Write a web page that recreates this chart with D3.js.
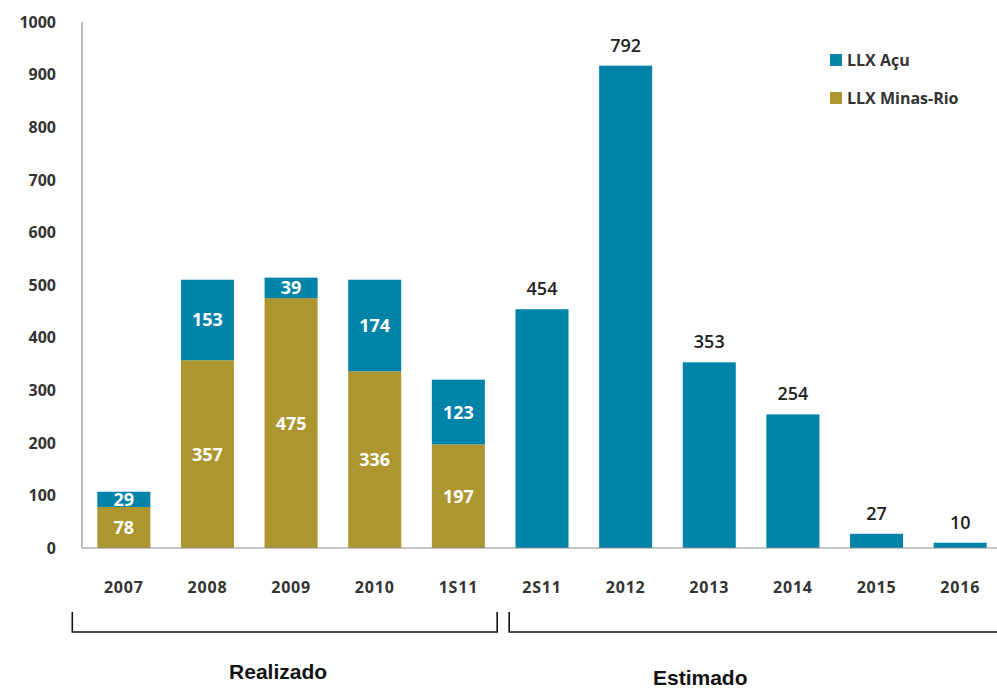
<!DOCTYPE html>
<html>
<head>
<meta charset="utf-8">
<script src="https://cdn.jsdelivr.net/npm/d3@7"></script>
<style>
  body { margin: 0; background: #fff; }
  svg { display: block; }
  .tick-label { font-family: "Open Sans", sans-serif; font-weight: 700; fill: #333; }
</style>
</head>
<body>
<svg class="mysvg"></svg>
<script>
// categories and values
const categories = ["2007", "2008", "2009", "2010", "1S11", "2S11", "2012", "2013", "2014", "2015", "2016"];
const minasRio = [78, 357, 475, 336, 197, 0, 0, 0, 0, 0, 0];
// bar heights as drawn (2012 bar is drawn taller than its label says)
const acu = [29, 153, 39, 174, 123, 454, 917, 353, 254, 27, 10];
const acuLabels = ["29", "153", "39", "174", "123", "454", "792", "353", "254", "27", "10"];
const minasLabels = ["78", "357", "475", "336", "197", "", "", "", "", "", ""];
const yTicks = [0, 100, 200, 300, 400, 500, 600, 700, 800, 900, 1000];
const realizadoCats = ["2007", "2008", "2009", "2010", "1S11"];
const estimadoCats = ["2S11", "2012", "2013", "2014", "2015", "2016"];

const width = 997, height = 688;
const colorAcu = "#0083a9", colorMinas = "#ad952f";

const svg = d3.select(".mysvg").attr("width", width).attr("height", height);

const xScale = d3.scaleBand()
  .domain(categories)
  .range([82, 1002])
  .paddingInner(0.366)
  .paddingOuter(0.183);

const yScale = d3.scaleLinear().domain([0, 1000]).range([548, 22]);

const rows = categories.map((c, i) => ({
  cat: c, minas: minasRio[i], acu: acu[i],
  acuLabel: acuLabels[i], minasLabel: minasLabels[i],
  stacked: realizadoCats.includes(c)
}));

const cx = (c) => xScale(c) + xScale.bandwidth() / 2;

// Minas-Rio bars (bottom)
svg.selectAll(".bar-minas")
  .data(rows.filter(d => d.minas > 0))
  .enter().append("rect")
  .attr("class", "bar-minas")
  .attr("x", d => xScale(d.cat))
  .attr("width", xScale.bandwidth())
  .attr("y", d => yScale(d.minas))
  .attr("height", d => yScale(0) - yScale(d.minas))
  .attr("fill", colorMinas);

// Açu bars stacked on top
svg.selectAll(".bar-acu")
  .data(rows)
  .enter().append("rect")
  .attr("class", "bar-acu")
  .attr("x", d => xScale(d.cat))
  .attr("width", xScale.bandwidth())
  .attr("y", d => yScale(d.minas + d.acu))
  .attr("height", d => yScale(d.minas) - yScale(d.minas + d.acu))
  .attr("fill", colorAcu);

// Axes lines
svg.append("line")
  .attr("x1", 82).attr("x2", 82)
  .attr("y1", yScale(1000)).attr("y2", yScale(0))
  .attr("stroke", "#8c8c8c").attr("stroke-width", 1.2);
svg.append("line")
  .attr("x1", 82).attr("x2", width)
  .attr("y1", yScale(0)).attr("y2", yScale(0))
  .attr("stroke", "#8c8c8c").attr("stroke-width", 1.2);

// Y tick labels
svg.selectAll(".y-label")
  .data(yTicks)
  .enter().append("text")
  .attr("class", "tick-label")
  .attr("x", 56)
  .attr("y", d => yScale(d))
  .attr("dy", "0.36em")
  .attr("text-anchor", "end")
  .style("font-size", "16px")
  .text(d => d);

// X tick labels
svg.selectAll(".x-label")
  .data(categories)
  .enter().append("text")
  .attr("class", "tick-label")
  .attr("x", d => cx(d))
  .attr("y", 593)
  .attr("text-anchor", "middle")
  .style("font-size", "16px")
  .style("letter-spacing", "0.8px")
  .text(d => d);

// Labels inside stacked bars
const inside = rows.filter(d => d.stacked);
svg.selectAll(".lbl-acu-in")
  .data(inside)
  .enter().append("text")
  .attr("x", d => cx(d.cat))
  .attr("y", d => (yScale(d.minas) + yScale(d.minas + d.acu)) / 2)
  .attr("dy", "0.36em")
  .attr("text-anchor", "middle")
  .style("font-family", "Open Sans, sans-serif")
  .style("font-weight", 700)
  .style("font-size", "18px")
  .attr("fill", "#fff")
  .text(d => d.acuLabel);

svg.selectAll(".lbl-minas-in")
  .data(inside)
  .enter().append("text")
  .attr("x", d => cx(d.cat))
  .attr("y", d => (yScale(0) + yScale(d.minas)) / 2)
  .attr("dy", "0.36em")
  .attr("text-anchor", "middle")
  .style("font-family", "Open Sans, sans-serif")
  .style("font-weight", 700)
  .style("font-size", "18px")
  .attr("fill", "#fff")
  .text(d => d.minasLabel);

// Labels above the estimated bars
svg.selectAll(".lbl-above")
  .data(rows.filter(d => !d.stacked))
  .enter().append("text")
  .attr("x", d => cx(d.cat))
  .attr("y", d => yScale(d.acu) - 14)
  .attr("text-anchor", "middle")
  .style("font-family", "Open Sans, sans-serif")
  .style("font-weight", 600)
  .style("font-size", "18px")
  .attr("fill", "#222")
  .text(d => d.acuLabel);

// Legend
const legendData = [
  { name: "LLX Açu", color: colorAcu },
  { name: "LLX Minas-Rio", color: colorMinas }
];
const legend = svg.append("g").attr("class", "legend");
legend.selectAll("rect")
  .data(legendData)
  .enter().append("rect")
  .attr("x", 830)
  .attr("y", (d, i) => 54 + i * 38)
  .attr("width", 12)
  .attr("height", 12)
  .attr("fill", d => d.color);
legend.selectAll("text")
  .data(legendData)
  .enter().append("text")
  .attr("x", 847)
  .attr("y", (d, i) => 60 + i * 38)
  .attr("dy", "0.36em")
  .style("font-family", "Open Sans, sans-serif")
  .style("font-weight", 700)
  .style("font-size", "16px")
  .attr("fill", "#333")
  .text(d => d.name);

// Brackets under the x axis
const step = xScale.step();
const lastReal = realizadoCats[realizadoCats.length - 1];
const split = xScale(lastReal) + xScale.bandwidth() + (step - xScale.bandwidth()) / 2;
const groups = [
  { name: "Realizado", x0: xScale(realizadoCats[0]) - 25, x1: split - 3, tx: cx("2009") - 13, ty: 679 },
  { name: "Estimado", x0: split + 9, x1: width + 2, tx: cx("2013") - 9, ty: 685 }
];
const bracketTop = 612, bracketBottom = 632;
groups.forEach(g => {
  svg.append("path")
    .attr("d", `M${g.x0},${bracketTop}V${bracketBottom}H${g.x1}V${bracketTop}`)
    .attr("fill", "none")
    .attr("stroke", "#111")
    .attr("stroke-width", 1.6);
  svg.append("text")
    .attr("x", g.tx)
    .attr("y", g.ty)
    .attr("text-anchor", "middle")
    .style("font-family", "Liberation Sans, Arial, sans-serif")
    .style("font-weight", 700)
    .style("font-size", "21px")
    .attr("fill", "#111")
    .text(g.name);
});
</script>
</body>
</html>
